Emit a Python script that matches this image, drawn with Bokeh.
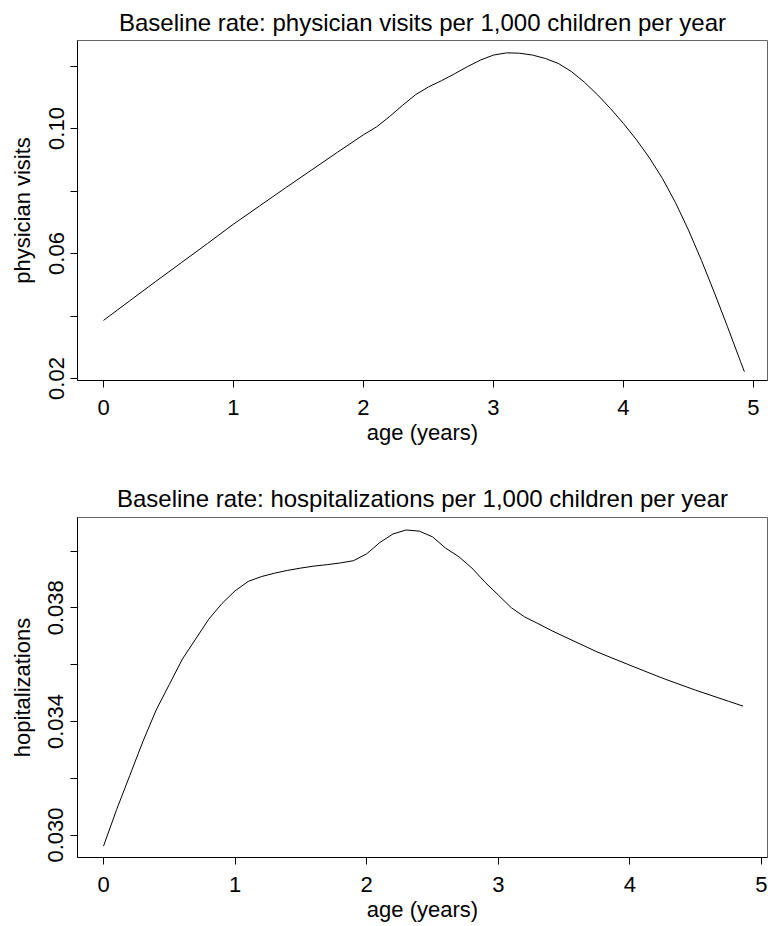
from bokeh.plotting import figure
from bokeh.layouts import column
from bokeh.models import FixedTicker, Range1d
from bokeh.embed import file_html
from bokeh.resources import INLINE

# ---- data ----
age_visits = [0.0, 0.2, 0.4, 0.6, 0.8, 1.0, 1.2, 1.4, 1.6, 1.8, 2.0, 2.1, 2.2, 2.3, 2.4,
              2.5, 2.6, 2.7, 2.8, 2.9, 3.0, 3.1, 3.2, 3.3, 3.4, 3.5, 3.6, 3.7, 3.8, 3.9,
              4.0, 4.1, 4.2, 4.3, 4.4, 4.5, 4.6, 4.7, 4.8, 4.9, 4.93]
visits = [0.0386, 0.0448, 0.0510, 0.0571, 0.0632, 0.0694, 0.0752, 0.0810, 0.0867, 0.0924,
          0.0980, 0.1005, 0.1038, 0.1074, 0.1108, 0.1133, 0.1153, 0.1175, 0.1198, 0.1219,
          0.1235, 0.1242, 0.1241, 0.1235, 0.1224, 0.1208, 0.1182, 0.1148, 0.1108, 0.1064,
          0.1016, 0.0964, 0.0906, 0.0840, 0.0763, 0.0675, 0.0578, 0.0474, 0.0366, 0.0255,
          0.0222]

age_hosp = [0.0, 0.1, 0.2, 0.3, 0.4, 0.5, 0.6, 0.7, 0.8, 0.9, 1.0, 1.1, 1.2, 1.3, 1.4,
            1.5, 1.6, 1.7, 1.8, 1.9, 2.0, 2.1, 2.2, 2.3, 2.4, 2.5, 2.6, 2.7, 2.8, 2.9,
            3.0, 3.1, 3.2, 3.3, 3.4, 3.5, 3.75, 4.0, 4.25, 4.5, 4.75, 4.86]
hosp = [0.02961, 0.0309, 0.0321, 0.0333, 0.0344, 0.0353, 0.0362, 0.0369, 0.0376, 0.03815,
        0.0386, 0.03893, 0.0391, 0.03922, 0.03932, 0.0394, 0.03947, 0.03952, 0.03958, 0.03966,
        0.0399, 0.0403, 0.0406, 0.04074, 0.0407, 0.0405, 0.0401, 0.0398, 0.0394, 0.0389,
        0.03845, 0.0380, 0.03768, 0.03745, 0.03721, 0.03699, 0.03645, 0.03598, 0.03552, 0.03510,
        0.03471, 0.03454]

x_ticks = [0, 1, 2, 3, 4, 5]
visits_ticks = [0.02, 0.04, 0.06, 0.08, 0.10, 0.12]
visits_tick_labels = ["0.02", "", "0.06", "", "0.10", ""]
hosp_ticks = [0.030, 0.032, 0.034, 0.036, 0.038, 0.040]
hosp_tick_labels = ["0.030", "", "0.034", "", "0.038", ""]

FONT = "Liberation Sans"
FS = "22px"
TITLE_FS = "24px"


def make_panel(title, ylabel, x, y, xr, yr, yticks, ylabels, top, bottom, title_standoff):
    p = figure(frame_width=690, frame_height=340,
               x_range=Range1d(*xr), y_range=Range1d(*yr),
               output_backend="svg", toolbar_location=None,
               min_border_left=77, min_border_right=1,
               min_border_top=top, min_border_bottom=bottom,
               background_fill_color="white", border_fill_color="white")
    p.title.text = title
    p.title.align = "center"
    p.title.text_font = FONT
    p.title.text_font_size = TITLE_FS
    p.title.text_font_style = "normal"
    p.title.text_color = "black"
    p.title.standoff = title_standoff
    p.outline_line_color = "#666666"
    p.outline_line_width = 1
    p.xgrid.visible = False
    p.ygrid.visible = False

    p.line(x, y, line_color="black", line_width=1)

    for ax in (p.xaxis, p.yaxis):
        ax.axis_line_color = "black"
        ax.major_tick_line_color = "black"
        ax.major_tick_out = 7
        ax.major_tick_in = 0
        ax.minor_tick_line_color = None
        ax.major_label_text_font = FONT
        ax.major_label_text_font_size = FS
        ax.major_label_text_color = "black"
        ax.axis_label_text_font = FONT
        ax.axis_label_text_font_size = FS
        ax.axis_label_text_font_style = "normal"
        ax.axis_label_text_color = "black"

    p.xaxis.ticker = FixedTicker(ticks=x_ticks)
    p.xaxis.axis_label = "age (years)"
    p.xaxis.major_label_standoff = 12
    p.xaxis.axis_label_standoff = 2

    p.yaxis.ticker = FixedTicker(ticks=yticks)
    p.yaxis.major_label_overrides = {t: l for t, l in zip(yticks, ylabels)}
    p.yaxis.major_label_orientation = "vertical"
    p.yaxis.major_label_standoff = 7
    p.yaxis.axis_label = ylabel
    p.yaxis.axis_label_standoff = 11
    return p


p1 = make_panel("Baseline rate: physician visits per 1,000 children per year",
                "physician visits", age_visits, visits,
                (-0.2, 5.108), (0.01936, 0.12816),
                visits_ticks, visits_tick_labels, 40, 87, 9)
p2 = make_panel("Baseline rate: hospitalizations per 1,000 children per year",
                "hopitalizations", age_hosp, hosp,
                (-0.1976, 5.046), (0.02921, 0.04118),
                hosp_ticks, hosp_tick_labels, 50, 66, 12)

layout = column(p1, p2, spacing=0)
open("out.html", "w").write(file_html(layout, INLINE))
